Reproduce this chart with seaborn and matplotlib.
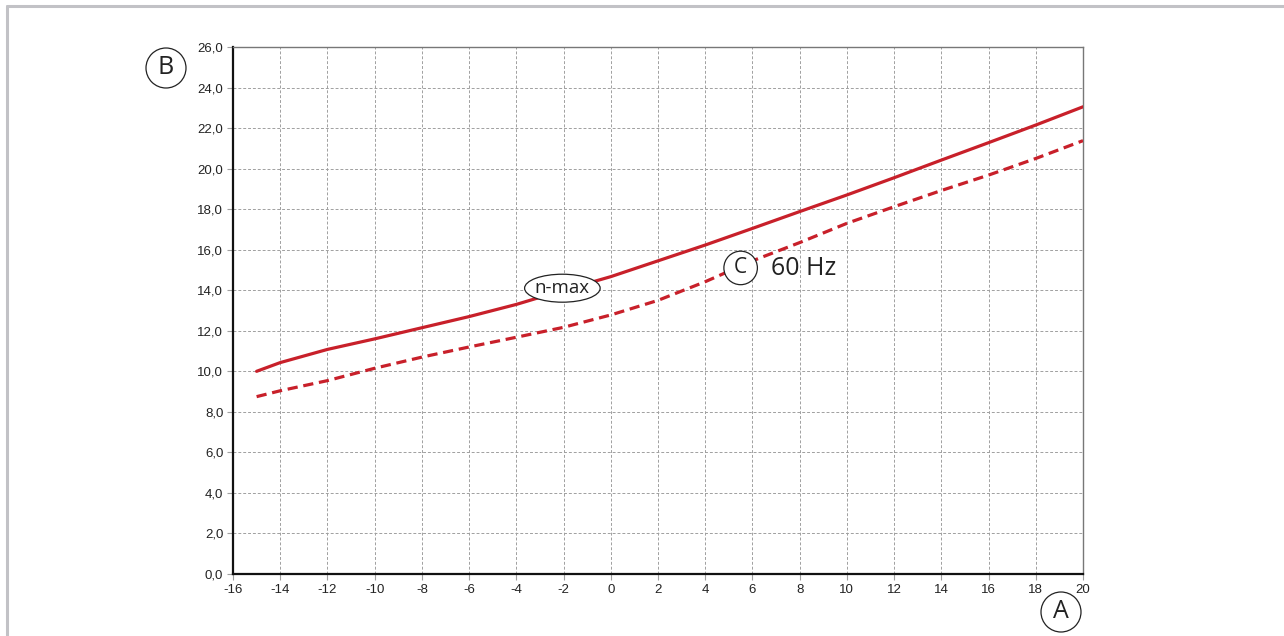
import matplotlib
matplotlib.use("Agg")
import matplotlib.pyplot as plt
import matplotlib.ticker as mticker
from matplotlib.patches import Ellipse
import seaborn as sns
import pandas as pd

# ---------------------------------------------------------------------------
# Data
# ---------------------------------------------------------------------------

X_VALUES = [-15, -14, -12, -10, -8, -6, -4, -2, 0, 2, 4, 6, 8, 10, 12, 14, 16, 18, 20]
NMAX_VALUES = [10.0, 10.43, 11.08, 11.6, 12.15, 12.7, 13.3, 14.0, 14.67, 15.45, 16.23,
               17.05, 17.88, 18.7, 19.55, 20.42, 21.28, 22.15, 23.05]
HZ60_VALUES = [8.75, 9.04, 9.54, 10.15, 10.7, 11.2, 11.68, 12.17, 12.78, 13.5, 14.42,
               15.45, 16.35, 17.3, 18.12, 18.92, 19.68, 20.5, 21.38]
X_TICKS = list(range(-16, 21, 2))
Y_TICKS = list(range(0, 27, 2))

# ---------------------------------------------------------------------------
# Style
# ---------------------------------------------------------------------------

RED = "#c8202a"
GRID = "#a0a0a0"
LABEL_FONT = ["Open Sans", "DejaVu Sans"]
BADGE = dict(boxstyle="circle,pad=0.3", facecolor="white", edgecolor="#222222", linewidth=0.9)

sns.set_theme(style="white")
plt.rcParams["font.family"] = ["Liberation Sans", "DejaVu Sans"]

df = pd.DataFrame({"x": X_VALUES, "nmax": NMAX_VALUES, "hz60": HZ60_VALUES})

fig = plt.figure(figsize=(12.84, 6.36), dpi=100)
ax = fig.add_axes([233 / 1284, 62 / 636, 850 / 1284, 527 / 636])

sns.lineplot(data=df, x="x", y="nmax", color=RED, linewidth=2.3, ax=ax, zorder=4)
sns.lineplot(data=df, x="x", y="hz60", color=RED, linewidth=2.3, ax=ax, zorder=4)
ax.lines[1].set_dashes((3.2, 1.8))

ax.set_xlim(-16, 20)
ax.set_ylim(0, 26)
ax.set_xticks(X_TICKS)
ax.set_yticks(Y_TICKS)
ax.yaxis.set_major_formatter(mticker.FuncFormatter(lambda v, _: f"{v:.1f}".replace(".", ",")))
ax.xaxis.set_major_formatter(mticker.FuncFormatter(lambda v, _: f"{v:.0f}"))
ax.set_xlabel("")
ax.set_ylabel("")

ax.grid(True, color=GRID, linewidth=0.7, linestyle=(0, (3, 2)))
ax.tick_params(axis="both", which="major", direction="out", length=4, width=0.8,
               color=GRID, labelsize=9.5, labelcolor="#222222", pad=3, bottom=True, left=True)

for side in ("left", "bottom"):
    ax.spines[side].set_color("#111111")
    ax.spines[side].set_linewidth(1.6)
for side in ("top", "right"):
    ax.spines[side].set_color("#777777")
    ax.spines[side].set_linewidth(1.0)
    ax.spines[side].set_visible(True)

# Curve labels
ax.add_patch(Ellipse((-2.05, 14.1), 3.2, 1.38, facecolor="white", edgecolor="#222222",
                     linewidth=0.9, zorder=5))
ax.text(-2.05, 14.1, "n-max", ha="center", va="center", fontsize=13.5,
        family=LABEL_FONT, color="#222222", zorder=6)
ax.text(5.5, 15.1, "C", ha="center", va="center", fontsize=15, family=LABEL_FONT,
        color="#222222", zorder=6, bbox=BADGE)
ax.text(6.8, 15.05, "60 Hz", ha="left", va="center", fontsize=18, family=LABEL_FONT,
        color="#222222", zorder=6)

# Axis badges
fig.text(166 / 1284, 1 - 68 / 636, "B", ha="center", va="center", fontsize=18,
         family=LABEL_FONT, color="#222222", bbox=BADGE)
fig.text(1061 / 1284, 1 - 612 / 636, "A", ha="center", va="center", fontsize=18,
         family=LABEL_FONT, color="#222222", bbox=BADGE)

# Page frame (top and left edges only)
fig.add_artist(plt.Line2D([7 / 1284, 1], [1 - 6 / 636, 1 - 6 / 636], color="#c2c2c6",
                          linewidth=2.2, transform=fig.transFigure))
fig.add_artist(plt.Line2D([7 / 1284, 7 / 1284], [0, 1 - 6 / 636], color="#c2c2c6",
                          linewidth=2.2, transform=fig.transFigure))

fig.savefig("out.png", dpi=100)
plt.close(fig)
